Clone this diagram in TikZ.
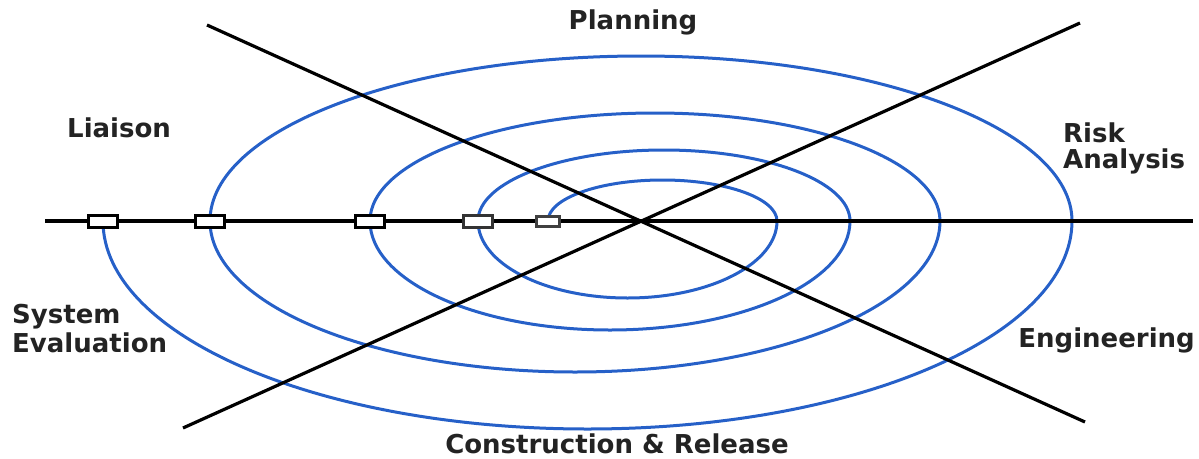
\documentclass[tikz,border=0pt]{standalone}
\usepackage{fontspec}
\setmainfont{DejaVu Sans}
\definecolor{spiral}{RGB}{38,96,200}
\definecolor{txt}{RGB}{35,35,35}
\begin{document}
\begin{tikzpicture}[x=1pt,y=1pt,
  lbl/.style={font=\fontsize{26}{29}\selectfont\bfseries, text=txt, inner sep=0pt},
  blk/.style={line width=3.2pt, black},
  sp/.style={line width=3pt, spiral},
  marker/.style={draw=black, fill=white, line width=3pt, minimum width=29pt, minimum height=12pt, inner sep=0pt},
  smallmarker/.style={marker, draw=black!75, minimum width=23pt, minimum height=10pt},
  ]
\useasboundingbox (0,0) rectangle (1199,-458);
% positions of the markers on the axis
\coordinate (c1) at (103,-221);
\coordinate (c2) at (210,-221);
\coordinate (c3) at (370,-221);
\coordinate (c4) at (478,-221);
\coordinate (c5) at (548,-221);
% line end points
\coordinate (axL) at (45,-221);
\coordinate (axR) at (1193,-221);
\coordinate (aS) at (207,-25);
\coordinate (aE) at (1085,-422);
\coordinate (bS) at (183,-428);
\coordinate (bE) at (1080,-23);
% spiral
\draw[sp] (c5)
  arc[start angle=180,end angle=0,x radius=114.5pt,y radius=41pt]
  arc[start angle=0,end angle=-180,x radius=149.5pt,y radius=77pt]
  arc[start angle=180,end angle=0,x radius=186pt,y radius=71pt]
  arc[start angle=0,end angle=-180,x radius=240pt,y radius=109pt]
  arc[start angle=180,end angle=0,x radius=285pt,y radius=108pt]
  arc[start angle=0,end angle=-180,x radius=365pt,y radius=151pt]
  arc[start angle=180,end angle=0,x radius=431pt,y radius=165pt]
  arc[start angle=0,end angle=-180,x radius=484.5pt,y radius=208pt];
% axes
\draw[blk] (axL) -- (axR);
\draw[blk] (aS) -- (aE);
\draw[blk] (bS) -- (bE);
% markers
\node[marker] (m1) at (c1) {};
\node[marker] (m2) at (c2) {};
\node[marker] (m3) at (c3) {};
\node[marker, draw=black!80] (m4) at (c4) {};
\node[smallmarker] (m5) at (c5) {};
% labels
\node[lbl, anchor=base] (plan) at (633,-29) {Planning};
\node[lbl, anchor=base west] (liai) at (67,-137) {Liaison};
\node[lbl, anchor=base west] (risk1) at (1063,-142) {Risk};
\node[lbl, anchor=base west] (risk2) at (1063,-168) {Analysis};
\node[lbl, anchor=base west] (sys1) at (12,-323) {System};
\node[lbl, anchor=base west] (sys2) at (12,-352) {Evaluation};
\node[lbl, anchor=base east] (eng) at (1195,-347) {Engineering};
\node[lbl, anchor=base] (cons) at (617,-453) {Construction \& Release};
\end{tikzpicture}
\end{document}
